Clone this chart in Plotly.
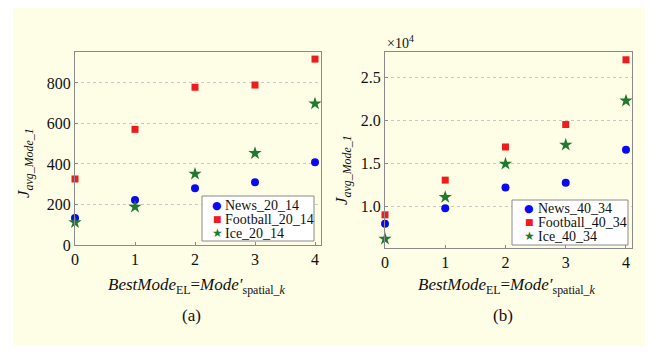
import plotly.graph_objects as go

# The page body has an 8px margin, so the figure is drawn 16px smaller and
# every layout position below is given in window pixels minus that offset.
WIN_W, WIN_H = 658, 354
OFF = 8
W, H = WIN_W - 2 * OFF, WIN_H - 2 * OFF

modes = [0, 1, 2, 3, 4]

# panel (a)
news_20_14 = [133, 222, 280, 310, 408]
football_20_14 = [326, 571, 779, 790, 918]
ice_20_14 = [112, 188, 351, 453, 698]

# panel (b)
news_40_34 = [8000, 9800, 12200, 12750, 16570]
football_40_34 = [9040, 13060, 16900, 19500, 27000]
ice_40_34 = [6260, 11090, 14950, 17150, 22250]

yticks_a = [0, 200, 400, 600, 800]
yticks_b = [10000, 15000, 20000, 25000]
yticklabels_b = ["1.0", "1.5", "2.0", "2.5"]

BLUE = "#0a0af0"
RED = "#ee1c1c"
GREEN = "#1f7a2e"
FONT = "Liberation Serif, Times New Roman, serif"
TXT = "#111111"

def px(x):
    return (x - OFF) / W

def py(y):
    return 1 - (y - OFF) / H

fig = go.Figure()

series_a = [("News_20_14", news_20_14, "circle", BLUE, 8, "●"),
            ("Football_20_14", football_20_14, "square", RED, 7, "■"),
            ("Ice_20_14", ice_20_14, "star", GREEN, 10, "★")]
series_b = [("News_40_34", news_40_34, "circle", BLUE, 8, "●"),
            ("Football_40_34", football_40_34, "square", RED, 7, "■"),
            ("Ice_40_34", ice_40_34, "star", GREEN, 10, "★")]

for name, vals, sym, col, sz, _ in series_a:
    fig.add_trace(go.Scatter(x=modes, y=vals, mode="markers", name=name, showlegend=False,
                             marker=dict(symbol=sym, color=col, size=sz, line=dict(width=0)),
                             xaxis="x", yaxis="y", cliponaxis=False))
for name, vals, sym, col, sz, _ in series_b:
    fig.add_trace(go.Scatter(x=modes, y=vals, mode="markers", name=name, showlegend=False,
                             marker=dict(symbol=sym, color=col, size=sz, line=dict(width=0)),
                             xaxis="x2", yaxis="y2", cliponaxis=False))

axis_common = dict(showline=True, linecolor="#8a8a8a", linewidth=1, mirror=True,
                   ticks="inside", ticklen=3, tickcolor="#8a8a8a", automargin=False,
                   tickfont=dict(family=FONT, size=16, color=TXT), zeroline=False)

fig.update_layout(
    width=W, height=H,
    margin=dict(l=0, r=0, t=0, b=0),
    paper_bgcolor="white", plot_bgcolor="white",
    font=dict(family=FONT, color=TXT),
    showlegend=False,
    xaxis=dict(domain=[px(75), px(321)], range=[0, 4.1], tickvals=modes,
               showgrid=False, anchor="y", **axis_common),
    yaxis=dict(domain=[py(245), py(52)], range=[0, 953], tickvals=yticks_a,
               showgrid=True, gridcolor="#c8c8c8", griddash="dot", anchor="x", **axis_common),
    xaxis2=dict(domain=[px(385), px(632)], range=[0, 4.1], tickvals=modes,
                showgrid=False, anchor="y2", **axis_common),
    yaxis2=dict(domain=[py(248), py(52)], range=[5200, 27900], tickvals=yticks_b,
                ticktext=yticklabels_b, showgrid=True, gridcolor="#c8c8c8", griddash="dot",
                anchor="x2", **axis_common),
)

# cream background panel
fig.add_shape(type="rect", xref="paper", yref="paper", x0=px(13), x1=px(645),
              y0=py(345), y1=py(7), fillcolor="#fefde6", line=dict(width=0), layer="below")

# legend boxes (drawn as shapes + text so the compact MATLAB layout is kept)
legend_boxes = [
    (series_a, (202, 314, 196, 241), 217, 223, [205, 219, 233]),
    (series_b, (512, 628, 200, 245), 529, 536, [208, 222, 236]),
]
for series, (x0, x1, y0, y1), sx, tx, rows in legend_boxes:
    fig.add_shape(type="rect", xref="paper", yref="paper", x0=px(x0), x1=px(x1),
                  y0=py(y1), y1=py(y0), fillcolor="white",
                  line=dict(color="#8a8a8a", width=1), layer="above")
    for (name, _, _, col, _, glyph), ry in zip(series, rows):
        gsize = 11 if glyph == "●" else (9 if glyph == "■" else 12)
        fig.add_annotation(xref="paper", yref="paper", x=px(sx), y=py(ry), text=glyph,
                           showarrow=False, xanchor="center", yanchor="middle",
                           font=dict(family="DejaVu Sans", size=gsize, color=col))
        fig.add_annotation(xref="paper", yref="paper", x=px(tx), y=py(ry), text=name,
                           showarrow=False, xanchor="left", yanchor="middle",
                           font=dict(family=FONT, size=14, color=TXT))

ytitle = "<i>J</i><sub><i>avg_Mode_1</i></sub>"
xtitle = "<i>BestMode</i><sub>EL</sub>=<i>Mode′</i><sub>spatial_<i>k</i></sub>"

ann = [
    dict(x=px(25), y=py(163), text=ytitle, textangle=-90, font=dict(size=17)),
    dict(x=px(343), y=py(170), text=ytitle, textangle=-90, font=dict(size=17)),
    dict(x=px(197), y=py(286), text=xtitle, font=dict(size=17)),
    dict(x=px(507), y=py(286), text=xtitle, font=dict(size=17)),
    dict(x=px(192), y=py(315), text="(a)", font=dict(size=17)),
    dict(x=px(503), y=py(315), text="(b)", font=dict(size=17)),
    dict(x=px(385), y=py(42), text="×10<sup>4</sup>", xanchor="left", font=dict(size=14)),
]
for a in ann:
    f = dict(family=FONT, color=TXT)
    f.update(a.pop("font"))
    fig.add_annotation(xref="paper", yref="paper", showarrow=False, font=f,
                       xanchor=a.pop("xanchor", "center"), yanchor="middle", **a)

fig.write_html("out.html")
